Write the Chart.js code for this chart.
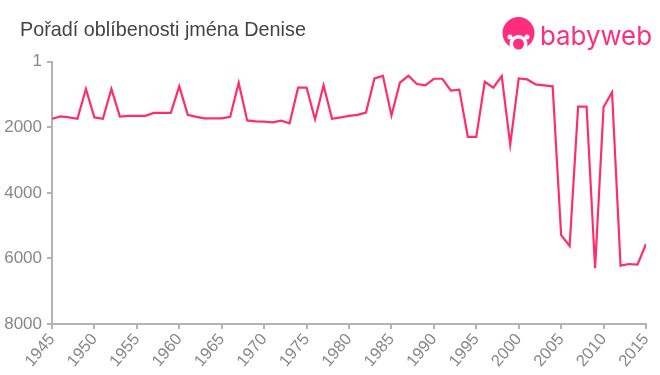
<!DOCTYPE html>
<html lang="cs">
<head>
<meta charset="utf-8">
<title>Denise</title>
<script src="https://cdn.jsdelivr.net/npm/chart.js@4/dist/chart.umd.min.js"></script>
<style>
    html, body { margin: 0; padding: 0; background: #fff; }
    #graf { position: relative; width: 660px; height: 375px; }
</style>
</head>
<body>
<div id="graf"><canvas id="bieuDo"></canvas></div>
<script>
const nazev = 'Pořadí oblíbenosti jména Denise';
const roky = [1945, 1946, 1947, 1948, 1949, 1950, 1951, 1952, 1953, 1954,
    1955, 1956, 1957, 1958, 1959, 1960, 1961, 1962, 1963, 1964,
    1965, 1966, 1967, 1968, 1969, 1970, 1971, 1972, 1973, 1974,
    1975, 1976, 1977, 1978, 1979, 1980, 1981, 1982, 1983, 1984,
    1985, 1986, 1987, 1988, 1989, 1990, 1991, 1992, 1993, 1994,
    1995, 1996, 1997, 1998, 1999, 2000, 2001, 2002, 2003, 2004,
    2005, 2006, 2007, 2008, 2009, 2010, 2011, 2012, 2013, 2014, 2015];
const poradi = [1740, 1670, 1700, 1740, 830, 1700, 1740, 830, 1670, 1650,
    1650, 1650, 1560, 1560, 1560, 750, 1620, 1680, 1730, 1730,
    1730, 1680, 640, 1790, 1820, 1830, 1850, 1800, 1880, 790,
    790, 1760, 720, 1740, 1700, 1650, 1620, 1550, 510, 430,
    1640, 640, 430, 680, 720, 520, 520, 880, 850, 2290,
    2290, 610, 790, 440, 2530, 510, 540, 690, 720, 750,
    5290, 5620, 1370, 1370, 6300, 1380, 930, 6220, 6170, 6190, 5560];
const ticksY = [1, 2000, 4000, 6000, 8000];

const ruzova = '#ff2d68';
const seda = '#b3b3b3';
const sedaText = '#888888';

// logo vpravo nahore + posun titulku
const logoPlugin = {
    id: 'logo',
    afterLayout(chart) {
        chart.titleBlock.left = 20;
    },
    afterDraw(chart) {
        const c = chart.ctx;
        c.save();
        c.fillStyle = '#ff2d7e';
        c.beginPath();
        c.arc(518.5, 33, 16, 0, Math.PI * 2);
        c.fill();
        c.fillStyle = '#fff';
        c.beginPath();
        c.arc(518.5, 44, 9, 0, Math.PI * 2);
        c.fill();
        c.beginPath();
        c.arc(510, 37, 2.5, 0, Math.PI * 2);
        c.arc(527, 37, 2.5, 0, Math.PI * 2);
        c.fill();
        c.fillStyle = '#ff2d7e';
        c.beginPath();
        c.arc(518.5, 44, 5.5, 0, Math.PI * 2);
        c.fill();
        c.font = '26px Inter, "Noto Sans", sans-serif';
        c.textBaseline = 'alphabetic';
        c.fillText('babyweb', 540, 44.5, 112);
        c.restore();
    }
};

new Chart(document.getElementById('bieuDo').getContext('2d'), {
    type: 'line',
    data: {
        datasets: [{
            data: roky.map((rok, i) => ({ x: rok, y: poradi[i] })),
            borderColor: ruzova,
            borderWidth: 2.2,
            pointRadius: 0,
            tension: 0,
            fill: false
        }]
    },
    options: {
        responsive: true,
        maintainAspectRatio: false,
        animation: false,
        layout: { padding: { top: 19, right: 14, bottom: 0, left: 0 } },
        plugins: {
            legend: { display: false },
            tooltip: { enabled: false },
            title: {
                display: true,
                text: nazev,
                align: 'start',
                color: '#444444',
                font: { family: '"Liberation Sans", Arial, sans-serif', size: 19.8, weight: 'normal' },
                padding: { top: 0, bottom: 19 }
            }
        },
        scales: {
            x: {
                type: 'linear',
                min: 1945,
                max: 2015,
                afterFit(scale) {
                    scale.height = 51;
                    // popisky nesmi zmensovat plochu grafu
                    scale.paddingLeft = 0;
                    scale.paddingRight = 0;
                },
                grid: { drawOnChartArea: false, drawTicks: true, tickLength: 5, color: seda, lineWidth: 2 },
                border: { color: seda, width: 2 },
                ticks: {
                    stepSize: 5,
                    autoSkip: false,
                    minRotation: 50,
                    maxRotation: 50,
                    padding: 1,
                    color: sedaText,
                    font: { family: '"Liberation Sans", Arial, sans-serif', size: 16.5 },
                    callback: v => String(v)
                }
            },
            y: {
                type: 'linear',
                reverse: true,
                min: 1,
                max: 8000,
                afterFit(scale) { scale.width = 52; },
                afterBuildTicks(scale) { scale.ticks = ticksY.map(v => ({ value: v })); },
                grid: { drawOnChartArea: false, drawTicks: true, tickLength: 5, color: seda, lineWidth: 2 },
                border: { color: seda, width: 2 },
                ticks: {
                    padding: 5,
                    color: sedaText,
                    font: { family: '"Liberation Sans", Arial, sans-serif', size: 17 },
                    callback: v => String(v)
                }
            }
        }
    },
    plugins: [logoPlugin]
});
</script>
</body>
</html>
